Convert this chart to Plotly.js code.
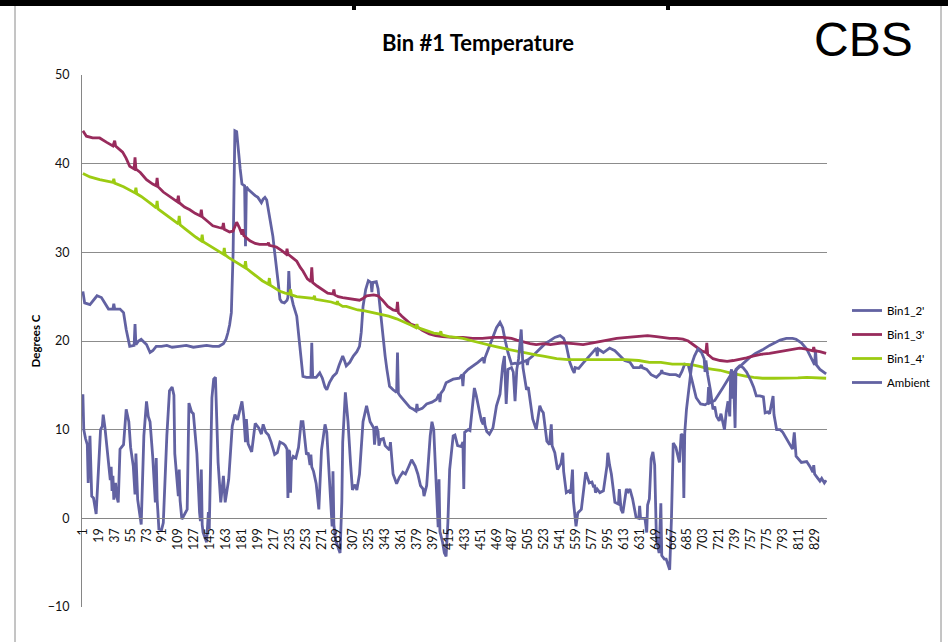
<!DOCTYPE html>
<html>
<head>
<meta charset="utf-8">
<script src="https://cdn.plot.ly/plotly-3.0.1.min.js"></script>
<style>
html,body{margin:0;padding:0;background:#fff;}
#chart{width:948px;height:642px;}
</style>
</head>
<body>
<div id="chart"></div>
<script>
// ---- data (sample number, temperature in degrees C) ----
const seriesNames = ["Bin1_2'", "Bin1_3'", "Bin1_4'", "Ambient"];
const tickLabels = [1,19,37,55,73,91,109,127,145,163,181,199,217,235,253,271,289,307,325,343,361,379,397,415,433,451,469,487,505,523,541,559,577,595,613,631,649,667,685,703,721,739,757,775,793,811,829];

const bin12 = [[1,25.6],[3,24.3],[9,24.1],[13,24.6],[17,25.1],[22,24.9],[27,24.0],[30,23.6],[35,23.6],[36,24.2],[37,23.6],[43,23.6],[47,23.2],[50,21.3],[54,19.4],[58,19.5],[59,19.5],[60,21.9],[61,19.6],[64,20.0],[67,20.2],[70,19.9],[73,19.6],[77,18.7],[80,18.9],[84,19.4],[90,19.4],[96,19.5],[102,19.3],[110,19.4],[118,19.5],[126,19.3],[133,19.4],[141,19.5],[148,19.4],[155,19.4],[160,19.7],[163,20.2],[165,20.9],[167,21.8],[169,23.2],[170,26.0],[171,30.0],[172,37.0],[173,43.7],[175,43.6],[177,41.0],[179,39.4],[181,37.7],[183,37.6],[184,37.5],[185,30.7],[186,37.4],[188,37.1],[192,36.7],[196,36.4],[199,36.2],[201,35.9],[203,35.6],[205,36.0],[207,36.2],[209,35.9],[211,34.8],[214,33.0],[216,31.8],[218,30.0],[220,28.5],[222,26.6],[224,24.7],[226,24.4],[229,24.3],[232,24.6],[233,24.9],[234,27.9],[235,25.9],[236,25.4],[239,24.1],[243,22.8],[246,20.2],[248,18.0],[250,16.0],[254,15.9],[258,15.9],[259,15.9],[260,19.8],[261,15.9],[265,15.9],[269,16.4],[272,15.8],[275,14.8],[277,14.5],[280,15.3],[284,16.0],[288,16.4],[291,17.3],[295,18.3],[297,17.8],[299,17.2],[303,17.6],[307,18.3],[311,18.8],[314,19.4],[316,21.0],[318,23.9],[321,25.8],[324,26.8],[327,26.6],[328,25.5],[329,26.6],[333,26.7],[335,25.9],[337,23.9],[339,21.9],[341,20.2],[343,18.3],[345,16.8],[348,14.9],[352,14.5],[356,14.2],[357,18.7],[358,14.1],[360,13.8],[365,13.2],[371,12.5],[375,12.3],[378,12.1],[379,12.9],[380,12.2],[385,12.4],[390,12.9],[396,13.1],[401,13.4],[404,14.0],[405,13.1],[406,14.1],[409,14.5],[412,15.3],[416,15.5],[420,15.7],[427,15.8],[430,16.2],[431,14.9],[432,16.3],[437,16.8],[443,17.2],[448,17.6],[454,18.1],[455,17.5],[456,18.1],[460,19.2],[465,20.6],[469,21.5],[473,22.1],[476,21.5],[479,20.0],[482,18.7],[486,17.4],[490,17.5],[493,17.4],[499,17.6],[503,17.8],[504,17.3],[505,17.9],[510,18.3],[518,19.1],[524,19.7],[529,20.0],[535,20.4],[541,20.6],[545,20.3],[548,19.5],[552,17.6],[555,16.8],[557,16.4],[558,17.0],[562,16.9],[567,17.5],[572,18.1],[578,18.7],[582,19.2],[583,18.3],[584,19.1],[590,18.7],[597,19.2],[603,18.9],[608,18.4],[614,17.8],[620,17.6],[624,17.0],[631,17.0],[633,17.3],[634,17.0],[639,16.8],[644,16.2],[650,15.9],[655,16.4],[656,16.7],[657,16.4],[665,16.2],[672,16.2],[676,16.0],[679,16.6],[682,17.4],[686,17.3],[690,15.6],[695,13.6],[700,12.9],[705,12.8],[708,13.0],[709,14.8],[710,13.0],[716,13.3],[725,14.7],[733,16.0],[742,16.9],[750,17.7],[755,18.1],[762,18.6],[770,19.0],[778,19.5],[782,19.7],[790,20.1],[797,20.3],[804,20.3],[808,20.2],[814,19.8],[820,19.1],[825,18.1],[829,17.3],[830,19.0],[831,17.3],[835,16.8],[840,16.4],[842,16.3]];

const bin13 = [[1,43.7],[5,43.1],[12,42.9],[20,42.9],[28,42.4],[35,42.0],[37,42.6],[38,42.0],[46,41.3],[50,40.6],[54,39.7],[59,39.4],[60,40.7],[61,39.4],[66,39.0],[73,38.2],[80,37.7],[84,37.5],[85,38.4],[86,37.4],[92,36.8],[96,36.5],[102,36.1],[108,35.7],[109,36.4],[110,35.6],[116,35.1],[122,34.8],[128,34.4],[134,34.1],[135,34.8],[136,34.0],[142,33.5],[148,33.0],[155,32.8],[159,32.7],[160,33.3],[161,32.6],[167,32.3],[171,32.4],[175,33.4],[178,32.8],[181,32.0],[182,32.6],[183,31.9],[190,31.3],[196,31.0],[201,30.9],[210,30.9],[211,31.1],[212,30.8],[220,30.6],[226,30.2],[231,29.8],[232,30.4],[233,29.8],[238,29.4],[243,29.0],[247,28.3],[250,27.9],[255,27.0],[259,26.7],[260,28.3],[261,26.6],[266,26.2],[272,25.8],[278,25.4],[284,25.3],[285,25.8],[286,25.2],[290,25.0],[295,24.9],[305,24.7],[314,24.6],[318,24.8],[322,25.1],[330,25.2],[335,25.1],[340,24.6],[346,23.9],[352,23.5],[356,23.4],[357,24.4],[358,23.2],[362,22.8],[367,22.3],[372,21.9],[378,21.7],[385,21.2],[393,20.8],[400,20.6],[408,20.5],[420,20.4],[431,20.4],[442,20.3],[453,20.3],[465,20.4],[476,20.4],[486,20.3],[492,20.1],[499,19.9],[507,19.7],[514,19.6],[522,19.7],[530,19.6],[544,19.8],[556,19.7],[567,19.6],[578,19.8],[589,20.0],[597,20.2],[605,20.3],[617,20.4],[628,20.5],[640,20.6],[650,20.5],[658,20.4],[665,20.3],[673,20.3],[680,20.2],[686,20.0],[691,19.6],[696,19.2],[701,18.9],[706,18.7],[707,19.8],[708,18.5],[714,18.0],[722,17.8],[730,17.7],[737,17.8],[744,17.9],[752,18.1],[759,18.3],[768,18.5],[778,18.6],[788,18.8],[797,18.9],[805,19.1],[812,19.2],[818,19.1],[824,19.0],[827,18.9],[828,19.3],[829,18.9],[835,18.8],[842,18.6]];

const bin14 = [[1,38.9],[9,38.5],[20,38.2],[30,38.0],[35,37.9],[36,38.3],[37,37.8],[47,37.4],[54,37.0],[60,36.7],[61,37.3],[62,36.6],[67,36.3],[73,35.9],[79,35.4],[84,35.0],[85,35.8],[86,34.9],[90,34.6],[96,34.1],[102,33.7],[109,33.2],[110,34.1],[111,33.1],[116,32.7],[122,32.2],[129,31.7],[135,31.3],[136,32.0],[137,31.2],[142,30.9],[148,30.5],[154,30.1],[160,29.8],[161,30.5],[162,29.7],[166,29.4],[171,29.1],[178,28.7],[184,28.3],[185,29.0],[186,28.2],[191,27.8],[197,27.3],[204,26.8],[211,26.4],[212,27.1],[213,26.3],[218,26.0],[224,25.6],[230,25.4],[235,25.3],[236,25.8],[237,25.2],[243,25.0],[250,24.9],[256,24.8],[262,24.8],[263,25.1],[264,24.7],[270,24.6],[277,24.5],[282,24.4],[288,24.2],[289,24.5],[290,24.2],[295,23.9],[299,23.9],[305,23.7],[312,23.5],[320,23.4],[329,23.2],[338,23.0],[347,22.8],[356,22.5],[366,22.1],[372,21.8],[378,21.5],[379,21.9],[380,21.5],[390,21.2],[398,20.9],[405,20.8],[406,21.1],[407,20.7],[415,20.5],[423,20.4],[431,20.3],[442,20.0],[453,19.7],[467,19.4],[480,19.1],[494,18.8],[507,18.6],[515,18.4],[522,18.3],[530,18.1],[537,18.0],[550,17.9],[563,17.9],[580,17.9],[600,17.9],[615,17.9],[630,17.8],[642,17.6],[655,17.6],[668,17.4],[680,17.4],[691,17.3],[700,17.1],[707,16.9],[714,16.8],[722,16.7],[733,16.4],[742,16.2],[752,16.0],[760,15.9],[770,15.8],[783,15.8],[797,15.8],[810,15.85],[820,15.9],[830,15.85],[842,15.8]];

const ambient = [[1,14.0],[2,10.0],[4,9.0],[6,8.3],[7,4.0],[9,9.3],[11,2.5],[13,2.3],[16,0.5],[19,7.0],[21,10.0],[23,10.4],[24,11.7],[26,10.2],[30,5.9],[32,4.3],[33,5.8],[34,3.1],[35,4.8],[36,2.1],[38,4.0],[39,2.6],[41,1.8],[43,7.8],[47,8.3],[50,12.3],[53,10.9],[55,8.0],[58,5.9],[60,2.7],[61,7.3],[63,2.1],[67,-0.7],[70,9.3],[73,13.2],[75,11.5],[77,10.9],[80,7.0],[83,1.8],[84,6.8],[85,2.2],[87,-1.2],[90,-1.3],[92,-0.5],[96,9.3],[99,14.4],[102,14.8],[104,13.9],[105,7.3],[107,4.5],[109,2.5],[110,5.5],[111,2.0],[113,-0.1],[117,0.7],[119,1.0],[121,13.0],[124,12.0],[126,11.8],[128,9.5],[130,7.3],[133,0.7],[134,-0.3],[135,5.5],[136,-0.7],[137,-1.6],[141,-2.7],[143,0.7],[144,-1.2],[147,13.6],[149,15.7],[151,15.9],[153,10.5],[154,6.3],[157,1.8],[160,4.8],[162,1.8],[166,4.4],[170,10.4],[173,11.7],[176,11.1],[179,12.3],[181,13.2],[183,11.5],[185,8.6],[186,11.2],[187,9.5],[188,8.4],[192,7.5],[196,10.7],[200,10.2],[203,9.5],[205,10.6],[208,9.7],[211,9.4],[214,8.6],[218,7.2],[221,7.4],[224,8.6],[228,8.4],[230,8.2],[232,7.8],[233,2.3],[234,7.7],[235,7.5],[236,2.9],[237,6.5],[239,7.0],[242,6.8],[245,8.0],[248,10.9],[250,10.9],[254,7.2],[256,7.4],[258,6.0],[259,7.2],[260,5.8],[262,5.3],[265,3.9],[268,1.0],[271,7.7],[275,10.6],[277,9.7],[280,5.0],[283,-0.9],[284,5.3],[285,-0.7],[287,-2.5],[290,-3.5],[292,-3.9],[294,1.8],[295,8.6],[298,14.2],[301,10.9],[304,6.0],[306,3.2],[309,3.8],[311,3.2],[314,5.0],[318,10.9],[322,12.7],[326,10.9],[330,10.2],[331,8.3],[333,10.4],[335,9.8],[336,8.2],[338,8.9],[341,9.0],[343,8.2],[346,7.9],[348,7.7],[349,8.6],[352,5.0],[356,3.9],[359,4.6],[363,5.2],[366,5.0],[370,5.9],[373,6.6],[377,5.9],[380,5.0],[383,3.7],[386,3.3],[387,2.5],[390,3.7],[394,9.3],[396,10.9],[398,10.0],[401,2.1],[403,-1.0],[404,4.4],[405,-1.5],[408,-2.7],[410,-3.9],[412,-4.3],[414,-0.5],[416,5.5],[420,9.3],[422,9.4],[425,8.2],[429,8.1],[431,8.6],[432,3.3],[433,9.7],[437,10.0],[439,9.9],[444,14.7],[446,13.9],[450,11.9],[452,11.0],[454,10.6],[455,11.4],[456,10.5],[458,9.8],[461,9.5],[465,10.2],[469,12.7],[473,14.0],[476,17.2],[478,18.3],[480,12.9],[482,16.8],[486,17.0],[488,16.5],[490,13.2],[492,16.8],[494,18.0],[497,21.3],[499,17.0],[503,14.5],[505,14.8],[507,13.2],[510,11.2],[514,10.0],[518,12.7],[520,12.2],[522,11.9],[526,8.7],[529,8.3],[531,10.6],[532,8.2],[535,7.4],[538,5.5],[542,6.2],[544,7.4],[545,5.3],[548,2.9],[551,3.1],[553,2.8],[555,5.5],[556,2.0],[559,-0.9],[561,0.6],[565,1.0],[570,5.2],[574,4.0],[577,4.1],[579,3.5],[580,3.8],[581,2.9],[583,3.3],[586,2.9],[590,3.1],[594,5.9],[595,7.4],[597,6.0],[599,5.0],[603,1.8],[607,1.6],[608,3.3],[609,1.6],[610,1.0],[612,0.6],[616,3.3],[618,3.0],[620,3.3],[623,2.2],[627,0.1],[630,0.0],[631,1.4],[632,0.0],[637,0.0],[639,-1.6],[640,1.5],[642,2.2],[644,6.7],[646,7.5],[648,6.0],[650,-2.4],[653,-3.9],[655,1.7],[656,-4.2],[659,-4.6],[661,-4.6],[665,-5.8],[667,0.0],[669,8.5],[672,8.0],[676,6.3],[678,9.5],[680,9.3],[681,2.3],[682,9.6],[684,12.3],[688,15.7],[690,17.4],[693,18.3],[697,19.1],[701,18.7],[704,18.0],[705,16.5],[706,17.8],[708,16.2],[711,14.5],[714,12.3],[716,12.6],[718,11.5],[721,11.0],[723,11.8],[725,11.0],[727,10.0],[729,12.0],[731,13.2],[733,11.5],[734,16.4],[735,16.8],[736,13.5],[737,16.6],[739,10.2],[740,16.8],[744,17.2],[748,17.0],[752,16.5],[757,15.5],[760,14.8],[763,13.8],[767,13.8],[771,13.7],[773,11.9],[776,12.0],[778,11.8],[782,13.8],[783,11.7],[786,10.0],[790,10.0],[793,9.7],[797,9.0],[801,8.2],[804,7.8],[806,9.7],[807,7.5],[808,7.0],[814,6.3],[820,6.4],[824,5.8],[827,5.2],[828,6.0],[829,5.0],[832,4.6],[835,4.2],[837,4.5],[840,4.0],[842,4.3]];

const seriesData = [bin12, bin13, bin14, ambient];
const seriesColors = ["#6262A2", "#982B5C", "#9CCB12", "#6262A2"];

// ---- chart ----
const FONT = "Lato, 'Open Sans', sans-serif";
const traces = seriesData.map((d, i) => ({
  type: "scatter",
  mode: "lines",
  name: seriesNames[i],
  legendgroup: "g" + i,
  x: d.map(p => p[0]),
  y: d.map(p => p[1]),
  line: {color: seriesColors[i], width: 2.8},
  hoverinfo: "x+y+name"
}));

const L = 82, R = 827, T = 75, B = 607;
const W = R - L, H = B - T;
const px = v => (v - L) / W;
const py = v => (B - v) / H;

const layout = {
  width: 948, height: 642,
  margin: {l: L, r: 948 - R, t: T, b: 642 - B, pad: 0},
  paper_bgcolor: "#ffffff",
  plot_bgcolor: "#ffffff",
  font: {family: FONT, size: 12, color: "#111"},
  showlegend: true,
  title: {text: "<b>Bin #1 Temperature</b>", x: 478/948, xanchor: "center", y: 1 - 43/642, yanchor: "middle",
          font: {family: FONT, size: 22, color: "#000"}},
  xaxis: {
    type: "linear", range: [0, 843],
    tickmode: "array", tickvals: tickLabels, ticktext: tickLabels.map(String),
    tickangle: -90, tickfont: {family: FONT, size: 12.5, color: "#111"},
    showgrid: false, zeroline: false,
    showline: true, linecolor: "#868686", linewidth: 1,
    anchor: "free", position: 10/60,
    ticks: "", ticklabelstandoff: 4
  },
  yaxis: {
    range: [-10, 50], tickvals: [-10, 0, 10, 20, 30, 40, 50],
    tickfont: {family: FONT, size: 12.5, color: "#111"},
    showgrid: true, gridcolor: "#8c8c8c", gridwidth: 1,
    zeroline: false, showline: true, linecolor: "#868686", linewidth: 1,
    ticks: "", ticklabelstandoff: 9,
    title: {text: "<b>Degrees C</b>", font: {family: FONT, size: 11.5, color: "#000"}, standoff: 4}
  },
  legend: {
    x: px(847), xanchor: "left", y: py(296), yanchor: "top",
    font: {family: FONT, size: 11.5, color: "#000"},
    bgcolor: "rgba(0,0,0,0)", tracegroupgap: 5, traceorder: "grouped"
  },
  annotations: [{
    text: "CBS", xref: "paper", yref: "paper", x: px(863), y: py(40),
    xanchor: "center", yanchor: "middle", showarrow: false,
    font: {family: "Liberation Sans, Arial, sans-serif", size: 48, color: "#000"}
  }],
  shapes: [
    {type: "rect", xref: "paper", yref: "paper", x0: px(15), x1: px(941), y0: py(700), y1: py(5),
     line: {color: "#8a8a8a", width: 1}, fillcolor: "rgba(0,0,0,0)", layer: "below"},
    {type: "rect", xref: "paper", yref: "paper", x0: px(-5), x1: px(960), y0: py(6), y1: py(-5),
     line: {width: 0}, fillcolor: "#000"},
    {type: "rect", xref: "paper", yref: "paper", x0: px(352), x1: px(356), y0: py(10), y1: py(5),
     line: {width: 0}, fillcolor: "#000"},
    {type: "rect", xref: "paper", yref: "paper", x0: px(666), x1: px(670), y0: py(10), y1: py(5),
     line: {width: 0}, fillcolor: "#000"}
  ]
};

Plotly.newPlot("chart", traces, layout, {displayModeBar: false, staticPlot: true});
</script>
</body>
</html>
